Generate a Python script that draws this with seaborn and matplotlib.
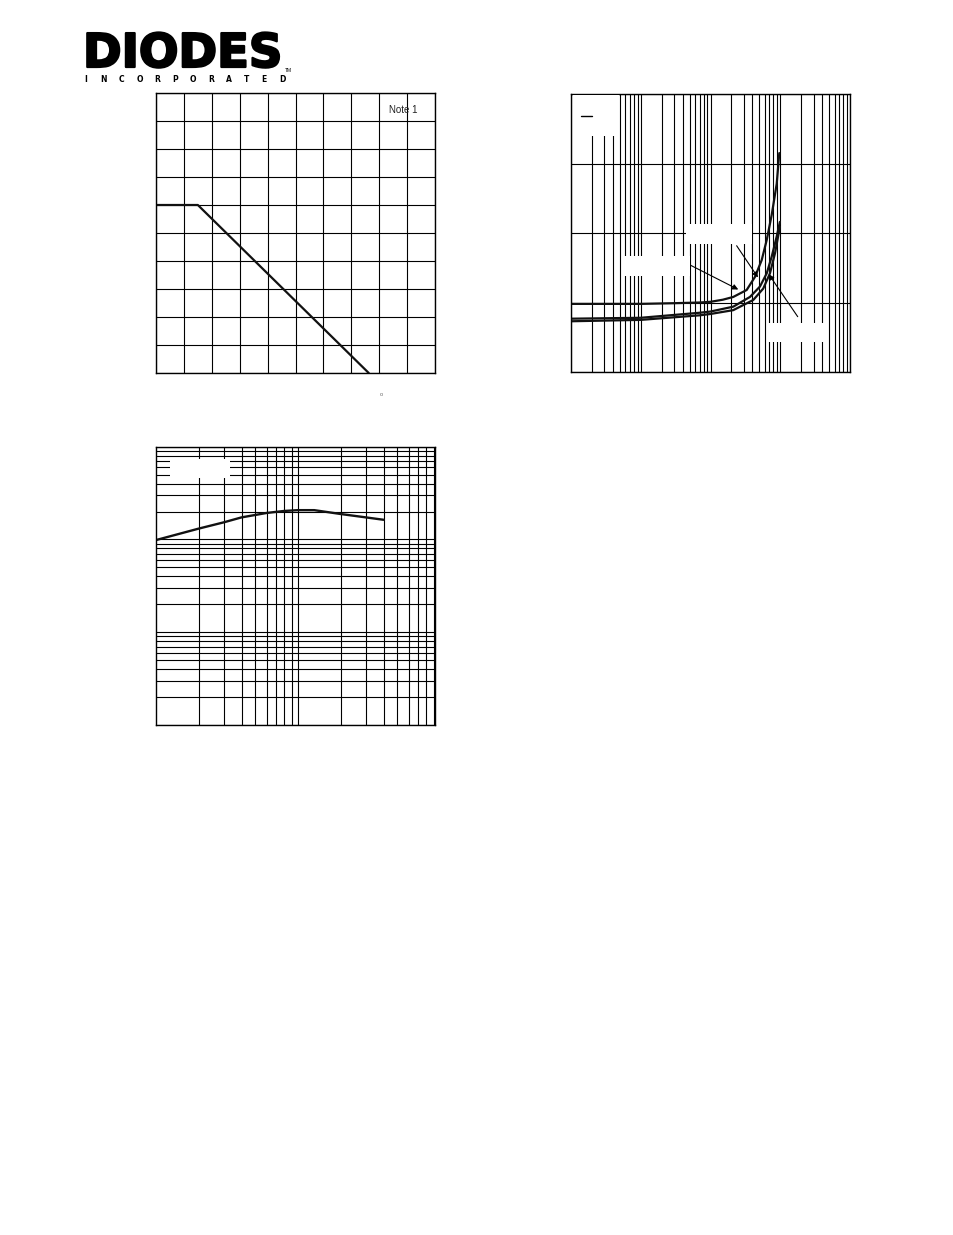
import numpy as np
import pandas as pd
import matplotlib
matplotlib.use("Agg")
import matplotlib.pyplot as plt
import matplotlib.patheffects as pe
import seaborn as sns
from matplotlib.ticker import LogLocator, NullLocator
from matplotlib.patches import Rectangle
from matplotlib.lines import Line2D

# chart 1: power derating (temperature vs power)
derate_temp = [0, 30, 152.5]
derate_power = [300, 300, 0]

# chart 2: three saturation curves vs collector current (mA)
curve_a_x = [0.1, 1, 3, 7.07, 10, 15, 21.2, 33, 43.5, 54.2, 64, 75.4, 89, 96.9]
curve_a_y = [0.098, 0.098, 0.099, 0.100, 0.101, 0.104, 0.108, 0.118, 0.137, 0.161, 0.190, 0.226, 0.271, 0.315]
curve_b_x = [0.1, 1, 7.07, 10, 21.2, 36.8, 51.2, 64, 75.4, 89, 98.8]
curve_b_y = [0.0767, 0.078, 0.0853, 0.087, 0.094, 0.108, 0.123, 0.142, 0.166, 0.195, 0.216]
curve_c_x = [0.1, 1, 7.07, 10, 21.2, 41, 57, 71.2, 84.2, 98.8]
curve_c_y = [0.073, 0.075, 0.0816, 0.0835, 0.089, 0.1036, 0.120, 0.142, 0.171, 0.209]

# chart 3: gain vs current
gain_x = [1, 2, 3, 4, 6, 8, 10, 13, 20, 30, 40]
gain_y = [98.5, 131, 153, 173, 193, 203, 207, 207, 188, 173, 163]

logo_word = "DIODES"
logo_sub = "INCORPORATED"
note_text = "Note 1"

W, H = 954, 1235

sns.set_theme(style="white")
plt.rcParams["font.family"] = ["Liberation Sans", "DejaVu Sans"]

fig = plt.figure(figsize=(W / 100, H / 100), dpi=100)


def px_axes(l, t, r, b):
    return fig.add_axes([l / W, 1 - b / H, (r - l) / W, (b - t) / H])


def px_box(l, t, r, b):
    fig.add_artist(Rectangle((l / W, 1 - b / H), (r - l) / W, (b - t) / H,
                             transform=fig.transFigure, fc="white", ec="none", zorder=5))


def style_axes(ax):
    ax.grid(True, which="both", color="black", lw=0.8)
    ax.tick_params(which="both", length=0, labelbottom=False, labelleft=False)
    for s in ax.spines.values():
        s.set_color("black")
        s.set_linewidth(1.0)


# ---------------- chart 1
ax1 = px_axes(156, 93, 435, 373)
sns.lineplot(x=derate_temp, y=derate_power, ax=ax1, color="#111111", lw=1.6, estimator=None)
ax1.set_xlim(0, 200)
ax1.set_ylim(0, 500)
ax1.set_xticks(np.arange(0, 201, 20))
ax1.set_yticks(np.arange(0, 501, 50))
style_axes(ax1)
ax1.text(0.885, 0.94, note_text, transform=ax1.transAxes, ha="center", va="center",
         fontsize=7, color="#222222")
fig.text(381 / W, 1 - 394 / H, "o", fontsize=4, color="#666666", ha="center", va="center")

# ---------------- chart 2
ax2 = px_axes(571, 94, 850, 372)
df2 = pd.concat([
    pd.DataFrame({"ic": curve_a_x, "v": curve_a_y, "curve": "A"}),
    pd.DataFrame({"ic": curve_b_x, "v": curve_b_y, "curve": "B"}),
    pd.DataFrame({"ic": curve_c_x, "v": curve_c_y, "curve": "C"}),
])
sns.lineplot(data=df2, x="ic", y="v", hue="curve", palette=["#111111"] * 3,
             ax=ax2, lw=1.6, legend=False, estimator=None)
ax2.set_xscale("log")
ax2.set_xlim(0.1, 1000)
ax2.set_ylim(0, 0.4)
ax2.xaxis.set_major_locator(LogLocator(base=10, numticks=10))
ax2.xaxis.set_minor_locator(LogLocator(base=10, subs=np.arange(2, 10), numticks=40))
ax2.set_yticks([0, 0.1, 0.2, 0.3, 0.4])
ax2.yaxis.set_minor_locator(NullLocator())
ax2.set_xlabel("")
ax2.set_ylabel("")
style_axes(ax2)

arrow = dict(arrowstyle="-|>", color="black", lw=0.8, mutation_scale=8, shrinkA=0, shrinkB=0)
ax2.annotate("", xy=(25.0, 0.1187), xytext=(5.08, 0.154), arrowprops=arrow)
ax2.annotate("", xy=(48.0, 0.136), xytext=(23.7, 0.1817), arrowprops=arrow)
ax2.annotate("", xy=(68.3, 0.1407), xytext=(178, 0.0796), arrowprops=arrow)

# blank label boxes (text removed in the reference)
px_box(573, 95, 619, 136)
px_box(686, 224, 752, 244)
px_box(623, 256, 690, 276)
px_box(767, 323, 828, 342)
fig.add_artist(Line2D([581 / W, 592 / W], [1 - 116 / H] * 2, color="black", lw=1.0, zorder=6))

# ---------------- chart 3
ax3 = px_axes(156, 446.7, 435, 725)
sns.lineplot(x=gain_x, y=gain_y, ax=ax3, color="#111111", lw=1.7, estimator=None)
ax3.set_xscale("log")
ax3.set_yscale("log")
ax3.set_xlim(1, 92)
ax3.set_ylim(1, 1000)
ax3.set_xticks([10])
ax3.xaxis.set_minor_locator(LogLocator(base=10, subs=np.arange(2, 10), numticks=40))
ax3.yaxis.set_major_locator(LogLocator(base=10, numticks=10))
ax3.yaxis.set_minor_locator(LogLocator(base=10, subs=np.arange(2, 10), numticks=40))
style_axes(ax3)
ax3.tick_params(axis="x", which="major", length=3, width=0.8, direction="out", color="black")
px_box(170, 459, 230, 478)

# ---------------- logo
fig.text(83 / W, 1 - 67 / H, logo_word, fontsize=33.5, fontweight="bold",
         family="DejaVu Sans", color="black", ha="left", va="baseline",
         path_effects=[pe.withStroke(linewidth=1.6, foreground="black")])
for cx, ch in zip(np.linspace(86, 282, len(logo_sub)), logo_sub):
    fig.text(cx / W, 1 - 80 / H, ch, fontsize=5.5, fontweight="bold",
             family="DejaVu Sans", color="black", ha="center", va="center")
fig.text(288 / W, 1 - 71 / H, "TM", fontsize=3.5, color="black", ha="center", va="center")

fig.savefig("out.png", dpi=100)
